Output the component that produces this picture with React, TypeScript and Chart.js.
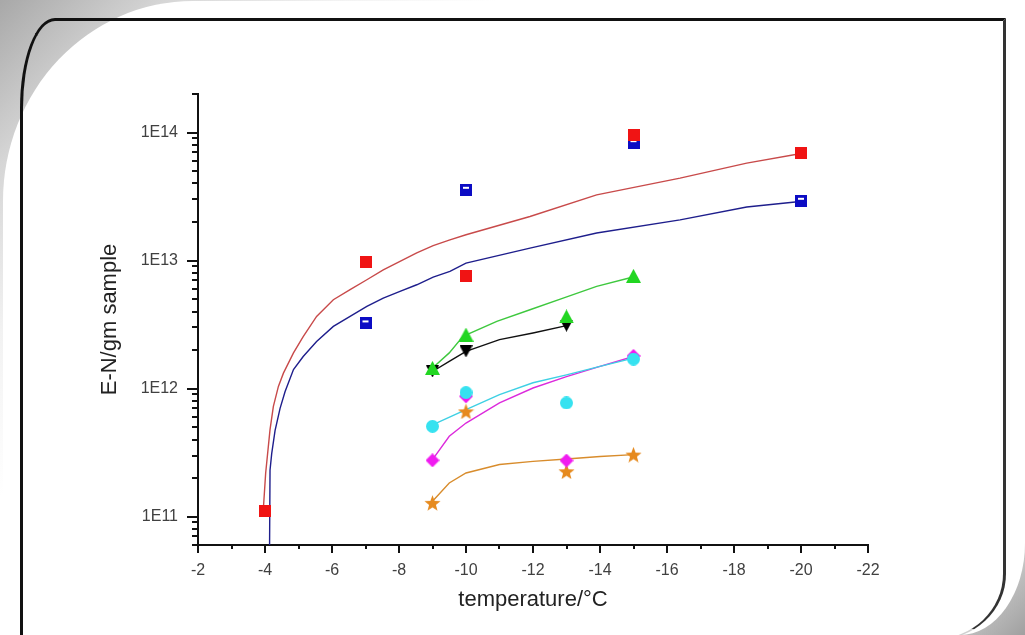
import React, { useEffect, useRef } from 'react';
import { Chart, registerables } from 'chart.js';

Chart.register(...registerables);

// ---------- axis ticks ----------
const xMajorTicks = [-2, -4, -6, -8, -10, -12, -14, -16, -18, -20, -22];
const xMinorTicks = [-3, -5, -7, -9, -11, -13, -15, -17, -19, -21];
const yDecadeTicks = [1e11, 1e12, 1e13, 1e14];
const yMinorTicks = [
  6e10, 7e10, 8e10, 9e10,
  2e11, 3e11, 4e11, 5e11, 6e11, 7e11, 8e11, 9e11,
  2e12, 3e12, 4e12, 5e12, 6e12, 7e12, 8e12, 9e12,
  2e13, 3e13, 4e13, 5e13, 6e13, 7e13, 8e13, 9e13,
  2e14,
];

// ---------- measured points ----------
const redX = [-4, -7, -10, -15, -20];
const redY = [1.1e11, 9.8e12, 7.6e12, 9.6e13, 6.9e13];
const blueX = [-7, -10, -15, -20];
const blueY = [3.23e12, 3.57e13, 8.26e13, 2.93e13];
const greenX = [-9, -10, -13, -15];
const greenY = [1.45e12, 2.64e12, 3.66e12, 7.6e12];
const blackX = [-9, -10, -13];
const blackY = [1.36e12, 1.95e12, 3.1e12];
const cyanX = [-9, -10, -13, -15];
const cyanY = [5.07e11, 9.3e11, 7.72e11, 1.7e12];
const magentaX = [-9, -10, -13, -15];
const magentaY = [2.75e11, 8.7e11, 2.74e11, 1.8e12];
const orangeX = [-9, -10, -13, -15];
const orangeY = [1.28e11, 6.64e11, 2.26e11, 3.05e11];

// ---------- fitted curves ----------
const redFitX = [-3.95, -4.02, -4.15, -4.25, -4.4, -4.55, -4.85, -5.14, -5.54, -6.04, -6.54, -7.04, -7.53, -8.03, -8.53, -9.02, -9.52, -10.0, -11.91, -13.9, -16.39, -18.38, -19.92];
const redFitY = [1.14e11, 2.19e11, 4.78e11, 7.26e11, 1.04e12, 1.32e12, 1.9e12, 2.55e12, 3.66e12, 4.94e12, 5.92e12, 7.08e12, 8.47e12, 9.84e12, 1.15e13, 1.31e13, 1.45e13, 1.59e13, 2.21e13, 3.26e13, 4.4e13, 5.77e13, 6.8e13];
const blueFitX = [-4.13, -4.15, -4.2, -4.3, -4.45, -4.6, -4.85, -5.14, -5.54, -6.04, -6.54, -7.04, -7.53, -8.03, -8.53, -9.02, -9.52, -10.0, -11.91, -13.9, -16.39, -18.38, -19.9];
const blueFitY = [3e10, 2.3e11, 3.1e11, 4.7e11, 7.0e11, 9.5e11, 1.41e12, 1.78e12, 2.33e12, 3.06e12, 3.66e12, 4.39e12, 5.09e12, 5.74e12, 6.47e12, 7.43e12, 8.22e12, 9.55e12, 1.25e13, 1.64e13, 2.08e13, 2.62e13, 2.88e13];
const greenFitX = [-9, -9.5, -9.91, -10.92, -11.91, -12.9, -13.9, -14.9, -15];
const greenFitY = [1.45e12, 1.9e12, 2.56e12, 3.35e12, 4.13e12, 5.09e12, 6.28e12, 7.34e12, 7.5e12];
const blackFitX = [-9, -9.5, -10, -11, -12, -13];
const blackFitY = [1.36e12, 1.63e12, 1.95e12, 2.41e12, 2.72e12, 3.1e12];
const cyanFitX = [-9, -10, -11, -12, -13, -14, -15];
const cyanFitY = [5.2e11, 6.84e11, 8.96e11, 1.11e12, 1.28e12, 1.49e12, 1.73e12];
const magentaFitX = [-9, -9.5, -10, -11, -12, -13, -14, -15];
const magentaFitY = [2.79e11, 4.24e11, 5.38e11, 7.72e11, 1.01e12, 1.24e12, 1.49e12, 1.78e12];
const orangeFitX = [-9, -9.5, -10, -11, -12, -13, -14, -15];
const orangeFitY = [1.32e11, 1.83e11, 2.19e11, 2.55e11, 2.7e11, 2.82e11, 2.95e11, 3.05e11];

const pts = (xs: number[], ys: number[]) => xs.map((x, i) => ({ x, y: ys[i] }));

function marker(w: number, h: number, draw: (c: CanvasRenderingContext2D) => void) {
  const cv = document.createElement('canvas');
  cv.width = w;
  cv.height = h;
  const c = cv.getContext('2d')!;
  draw(c);
  return cv;
}

const tickPlugin = {
  id: 'tickMarks',
  afterDraw(chart: any) {
    const { ctx, chartArea } = chart;
    const xs = chart.scales.x;
    const ys = chart.scales.y;
    ctx.save();
    ctx.strokeStyle = '#111';
    ctx.lineWidth = 2;
    ctx.beginPath();
    const vx = (v: number, len: number) => {
      const p = Math.round(xs.getPixelForValue(v));
      ctx.moveTo(p, chartArea.bottom);
      ctx.lineTo(p, chartArea.bottom + len);
    };
    const vy = (v: number, len: number) => {
      const p = Math.round(ys.getPixelForValue(v));
      ctx.moveTo(chartArea.left, p);
      ctx.lineTo(chartArea.left - len, p);
    };
    xMajorTicks.forEach((v) => vx(v, 8));
    xMinorTicks.forEach((v) => vx(v, 4));
    yDecadeTicks.forEach((v) => vy(v, 11));
    yMinorTicks.forEach((v) => vy(v, 6));
    ctx.stroke();
    ctx.restore();
  },
};

export default function App() {
  const ref = useRef<HTMLCanvasElement>(null);

  useEffect(() => {
    const redM = marker(12, 12, (c) => {
      c.fillStyle = '#f01414';
      c.fillRect(0, 0, 12, 12);
    });
    const blueM = marker(12, 12, (c) => {
      c.fillStyle = '#0c0cc4';
      c.fillRect(0, 0, 12, 12);
      c.fillStyle = '#ffffff';
      c.fillRect(3, 3, 6, 2);
    });
    const greenM = marker(15, 14, (c) => {
      c.fillStyle = '#22d622';
      c.beginPath();
      c.moveTo(7.5, 0);
      c.lineTo(15, 14);
      c.lineTo(0, 14);
      c.closePath();
      c.fill();
    });
    const blackM = marker(13, 12, (c) => {
      c.fillStyle = '#000';
      c.beginPath();
      c.moveTo(0, 0);
      c.lineTo(13, 0);
      c.lineTo(6.5, 12);
      c.closePath();
      c.fill();
    });
    const cyanM = marker(13, 13, (c) => {
      c.fillStyle = '#36e2f0';
      c.beginPath();
      c.arc(6.5, 6.5, 6.5, 0, Math.PI * 2);
      c.fill();
    });
    const magentaM = marker(14, 14, (c) => {
      c.fillStyle = '#f01cf0';
      c.beginPath();
      c.moveTo(7, 0);
      c.lineTo(14, 7);
      c.lineTo(7, 14);
      c.lineTo(0, 7);
      c.closePath();
      c.fill();
    });
    const orangeM = marker(17, 16, (c) => {
      c.fillStyle = '#e68a1e';
      c.beginPath();
      const cx = 8.5, cy = 8.8, R = 8.5, r = 3.6;
      for (let i = 0; i < 10; i++) {
        const a = -Math.PI / 2 + (i * Math.PI) / 5;
        const rr = i % 2 === 0 ? R : r;
        const px = cx + rr * Math.cos(a);
        const py = cy + rr * Math.sin(a);
        if (i === 0) c.moveTo(px, py);
        else c.lineTo(px, py);
      }
      c.closePath();
      c.fill();
    });

    const pointSet = (data: any, style: any, order: number) => ({
      data,
      showLine: false,
      pointStyle: style,
      pointRadius: 7,
      order,
    });
    const lineSet = (data: any, color: string) => ({
      data,
      showLine: true,
      borderColor: color,
      borderWidth: 1.4,
      pointRadius: 0,
      tension: 0,
      order: 10,
    });

    const chart = new Chart(ref.current!, {
      type: 'scatter',
      data: {
        datasets: [
          pointSet(pts(cyanX, cyanY), cyanM, 1),
          pointSet(pts(magentaX, magentaY), magentaM, 2),
          pointSet(pts(orangeX, orangeY), orangeM, 3),
          pointSet(pts(greenX, greenY), greenM, 4),
          pointSet(pts(blackX, blackY), blackM, 5),
          pointSet(pts(redX, redY), redM, 6),
          pointSet(pts(blueX, blueY), blueM, 7),
          lineSet(pts(redFitX, redFitY), '#c84a4a'),
          lineSet(pts(blueFitX, blueFitY), '#1e1e8c'),
          lineSet(pts(greenFitX, greenFitY), '#3ec83e'),
          lineSet(pts(blackFitX, blackFitY), '#111111'),
          lineSet(pts(cyanFitX, cyanFitY), '#3ed0e4'),
          lineSet(pts(magentaFitX, magentaFitY), '#dc2adc'),
          lineSet(pts(orangeFitX, orangeFitY), '#d88c2c'),
        ] as any,
      },
      options: {
        animation: false,
        responsive: false,
        events: [],
        layout: { padding: { left: 0, right: 157, top: 94, bottom: 0 } },
        plugins: { legend: { display: false }, tooltip: { enabled: false } },
        scales: {
          x: {
            type: 'linear',
            min: -22,
            max: -2,
            reverse: true,
            afterFit: (s: any) => { s.height = 90; },
            afterBuildTicks: (s: any) => { s.ticks = xMajorTicks.map((v) => ({ value: v })); },
            grid: { display: false, drawTicks: false },
            border: { display: true, color: '#111', width: 2 },
            ticks: {
              autoSkip: false,
              maxRotation: 0,
              padding: 16,
              color: '#404040',
              font: { family: 'Liberation Sans, Arial, sans-serif', size: 16 },
              callback: (v: any) => String(v),
            },
            title: {
              display: true,
              text: 'temperature/°C',
              color: '#222',
              font: { family: 'Liberation Sans, Arial, sans-serif', size: 22 },
              padding: { top: 0, bottom: 22 },
            },
          },
          y: {
            type: 'logarithmic',
            min: 6e10,
            max: 2e14,
            afterFit: (s: any) => { s.width = 198; },
            afterBuildTicks: (s: any) => { s.ticks = yDecadeTicks.map((v) => ({ value: v })); },
            grid: { display: false, drawTicks: false },
            border: { display: true, color: '#111', width: 2 },
            ticks: {
              autoSkip: false,
              padding: 20,
              color: '#404040',
              font: { family: 'Liberation Sans, Arial, sans-serif', size: 16 },
              callback: (v: any) => '1E' + Math.round(Math.log10(Number(v))),
            },
            title: {
              display: true,
              text: 'E-N/gm sample',
              color: '#222',
              font: { family: 'Liberation Sans, Arial, sans-serif', size: 22 },
              padding: { top: 97, bottom: 0 },
            },
          },
        },
      } as any,
      plugins: [tickPlugin],
    });
    return () => chart.destroy();
  }, []);

  return (
    <div
      style={{
        position: 'absolute',
        left: 0,
        top: 0,
        width: 1025,
        height: 635,
        overflow: 'hidden',
        background:
          'linear-gradient(135deg, #a8a8a8 0%, #d6d6d6 10%, #f2f2f2 20%, #ffffff 30%, #ffffff 86%, #d0d0d0 94%, #a0a0a0 100%)',
      }}
    >
      <div
        style={{
          position: 'absolute',
          left: 3,
          top: 1,
          width: 1022,
          height: 634,
          background: '#ffffff',
          borderRadius: '190px 0 65px 0 / 200px 0 92px 0',
        }}
      />
      <div
        style={{
          position: 'absolute',
          left: 20,
          top: 18,
          width: 980,
          height: 618,
          borderTop: '3px solid #111',
          borderLeft: '3px solid #111',
          borderRight: '3px solid #333',
          borderBottom: '1px solid #cfcfcf',
          borderRadius: '35px 0 71px 0 / 90px 0 66px 0',
          boxSizing: 'content-box',
        }}
      />
      <canvas
        ref={ref}
        width={1025}
        height={635}
        style={{ position: 'absolute', left: 0, top: 0, display: 'block' }}
      />
    </div>
  );
}
